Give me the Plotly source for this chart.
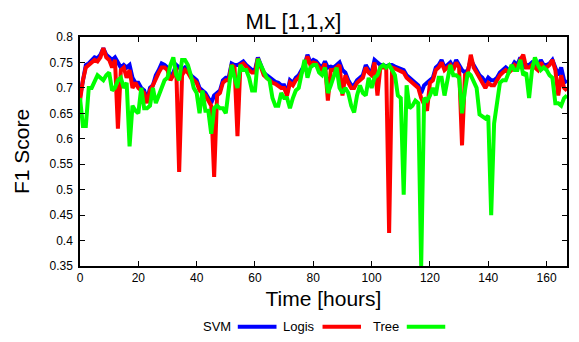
import plotly.graph_objects as go

hours = list(range(168))

svm = [
    0.683, 0.720, 0.745, 0.748, 0.755, 0.760, 0.758, 0.765, 0.778, 0.765,
    0.760, 0.755, 0.760, 0.748, 0.740, 0.745, 0.740, 0.745, 0.720, 0.710,
    0.710, 0.700, 0.695, 0.675, 0.700, 0.705, 0.725, 0.735, 0.748, 0.745,
    0.740, 0.720, 0.730, 0.745, 0.740, 0.735, 0.740, 0.735, 0.725, 0.720,
    0.715, 0.700, 0.695, 0.690, 0.680, 0.670, 0.685, 0.690, 0.695, 0.715,
    0.720, 0.720, 0.748, 0.745, 0.745, 0.748, 0.752, 0.745, 0.740, 0.735,
    0.735, 0.760, 0.745, 0.730, 0.725, 0.720, 0.715, 0.712, 0.710, 0.705,
    0.705, 0.690, 0.715, 0.710, 0.720, 0.725, 0.735, 0.745, 0.765, 0.750,
    0.755, 0.752, 0.745, 0.740, 0.752, 0.740, 0.742, 0.740, 0.745, 0.750,
    0.735, 0.730, 0.715, 0.705, 0.705, 0.715, 0.720, 0.725, 0.745, 0.735,
    0.730, 0.755, 0.750, 0.745, 0.745, 0.742, 0.745, 0.745, 0.742, 0.740,
    0.738, 0.735, 0.725, 0.720, 0.715, 0.712, 0.705, 0.690, 0.705, 0.710,
    0.715, 0.720, 0.740, 0.745, 0.755, 0.740, 0.745, 0.750, 0.740, 0.755,
    0.745, 0.735, 0.730, 0.735, 0.755, 0.745, 0.735, 0.725, 0.720, 0.710,
    0.720, 0.715, 0.715, 0.720, 0.730, 0.735, 0.740, 0.735, 0.740, 0.750,
    0.745, 0.760, 0.740, 0.745, 0.745, 0.750, 0.745, 0.740, 0.755, 0.745,
    0.745, 0.748, 0.755, 0.740, 0.725, 0.740, 0.715, 0.710,
]

logis = [
    0.675, 0.715, 0.740, 0.745, 0.750, 0.755, 0.752, 0.760, 0.778, 0.760,
    0.755, 0.740, 0.755, 0.620, 0.735, 0.740, 0.720, 0.735, 0.700, 0.710,
    0.700, 0.695, 0.690, 0.670, 0.695, 0.705, 0.720, 0.730, 0.740, 0.740,
    0.735, 0.715, 0.725, 0.740, 0.535, 0.725, 0.735, 0.730, 0.720, 0.715,
    0.710, 0.695, 0.690, 0.685, 0.675, 0.665, 0.525, 0.685, 0.690, 0.710,
    0.715, 0.715, 0.745, 0.740, 0.605, 0.745, 0.748, 0.740, 0.735, 0.730,
    0.730, 0.758, 0.740, 0.725, 0.720, 0.715, 0.710, 0.708, 0.705, 0.700,
    0.700, 0.685, 0.710, 0.705, 0.715, 0.720, 0.730, 0.740, 0.762, 0.745,
    0.750, 0.748, 0.740, 0.735, 0.748, 0.675, 0.735, 0.735, 0.740, 0.745,
    0.685, 0.725, 0.710, 0.700, 0.700, 0.710, 0.715, 0.720, 0.740, 0.730,
    0.725, 0.750, 0.685, 0.740, 0.740, 0.740, 0.415, 0.740, 0.738, 0.735,
    0.732, 0.730, 0.720, 0.715, 0.710, 0.705, 0.700, 0.680, 0.665, 0.655,
    0.710, 0.715, 0.735, 0.740, 0.750, 0.735, 0.740, 0.745, 0.735, 0.750,
    0.740, 0.587, 0.725, 0.730, 0.765, 0.740, 0.730, 0.720, 0.710, 0.700,
    0.710, 0.705, 0.705, 0.715, 0.725, 0.730, 0.735, 0.730, 0.735, 0.745,
    0.740, 0.755, 0.765, 0.740, 0.740, 0.745, 0.740, 0.735, 0.750, 0.740,
    0.740, 0.745, 0.755, 0.735, 0.685, 0.725, 0.700, 0.695,
]

tree = [
    0.680, 0.625, 0.625, 0.700, 0.700, 0.715, 0.725, 0.720, 0.715, 0.725,
    0.730, 0.695, 0.700, 0.715, 0.720, 0.700, 0.710, 0.585, 0.665, 0.655,
    0.650, 0.700, 0.660, 0.660, 0.665, 0.700, 0.670, 0.685, 0.700, 0.715,
    0.720, 0.745, 0.760, 0.725, 0.715, 0.755, 0.755, 0.745, 0.725, 0.700,
    0.690, 0.650, 0.695, 0.655, 0.655, 0.610, 0.660, 0.665, 0.660, 0.660,
    0.650, 0.695, 0.745, 0.720, 0.700, 0.745, 0.735, 0.735, 0.720, 0.695,
    0.695, 0.757, 0.745, 0.735, 0.720, 0.715, 0.680, 0.665, 0.665, 0.690,
    0.680, 0.680, 0.660, 0.680, 0.695, 0.700, 0.725, 0.755, 0.720, 0.740,
    0.745, 0.745, 0.730, 0.725, 0.740, 0.690, 0.705, 0.720, 0.740, 0.700,
    0.690, 0.700, 0.690, 0.665, 0.652, 0.685, 0.705, 0.690, 0.685, 0.720,
    0.700, 0.720, 0.725, 0.740, 0.745, 0.740, 0.745, 0.735, 0.725, 0.685,
    0.680, 0.490, 0.705, 0.660, 0.665, 0.675, 0.670, 0.350, 0.680, 0.675,
    0.685, 0.700, 0.685, 0.720, 0.720, 0.685, 0.720, 0.745, 0.725, 0.725,
    0.720, 0.650, 0.695, 0.730, 0.725, 0.710, 0.700, 0.648, 0.645, 0.640,
    0.645, 0.450, 0.630, 0.675, 0.710, 0.715, 0.715, 0.730, 0.745, 0.735,
    0.735, 0.755, 0.725, 0.730, 0.680, 0.735, 0.760, 0.745, 0.735, 0.740,
    0.735, 0.725, 0.720, 0.670, 0.670, 0.665, 0.680, 0.685,
]

series = [
    ("SVM", svm, "#0000FF"),
    ("Logis", logis, "#FF0000"),
    ("Tree", tree, "#00FF00"),
]

FONT = "Liberation Sans, Arial, sans-serif"

fig = go.Figure()
for name, vals, color in series:
    fig.add_trace(go.Scatter(
        x=hours, y=vals, mode="lines", name=name,
        line=dict(color=color, width=4), showlegend=False,
    ))

axis_common = dict(
    showline=True, linecolor="black", linewidth=1.5, mirror="ticks",
    ticks="inside", ticklen=5, tickwidth=1.2, tickcolor="black",
    showgrid=False, zeroline=False, automargin=False,
    tickfont=dict(family=FONT, size=12, color="black"),
)

fig.update_xaxes(range=[0, 167], dtick=20, tick0=0,
                 title=dict(text="Time [hours]", font=dict(family=FONT, size=21, color="black"), standoff=7),
                 **axis_common)
fig.update_yaxes(range=[0.35, 0.8], dtick=0.05, tick0=0.35, ticklabelstandoff=3,
                 title=dict(text="F1 Score", font=dict(family=FONT, size=21, color="black"), standoff=14),
                 **axis_common)

# custom legend (text followed by line sample)
legend_items = [("SVM", "#0000FF", 0.314, 0.324, 0.4035),
                ("Logis", "#FF0000", 0.487, 0.498, 0.577),
                ("Tree", "#00FF00", 0.659, 0.671, 0.750)]
ly = -0.265
for text, color, tx, x0, x1 in legend_items:
    fig.add_annotation(x=tx, y=ly, xref="paper", yref="paper", text=text,
                       showarrow=False, xanchor="right", yanchor="middle",
                       font=dict(family=FONT, size=13, color="black"))
    fig.add_shape(type="line", xref="paper", yref="paper", x0=x0, x1=x1, y0=ly, y1=ly,
                  line=dict(color=color, width=4))

# the page body adds an 8px offset, so the figure is sized to fit the window
fig.update_layout(
    width=571, height=334,
    margin=dict(l=72, r=12, t=29, b=76, autoexpand=False),
    paper_bgcolor="white", plot_bgcolor="white",
    title=dict(text="ML [1,1,x]", x=0.5, xanchor="center", y=0.96, yanchor="middle",
               font=dict(family=FONT, size=22, color="black")),
    font=dict(family=FONT),
)

fig.write_html("out.html")
